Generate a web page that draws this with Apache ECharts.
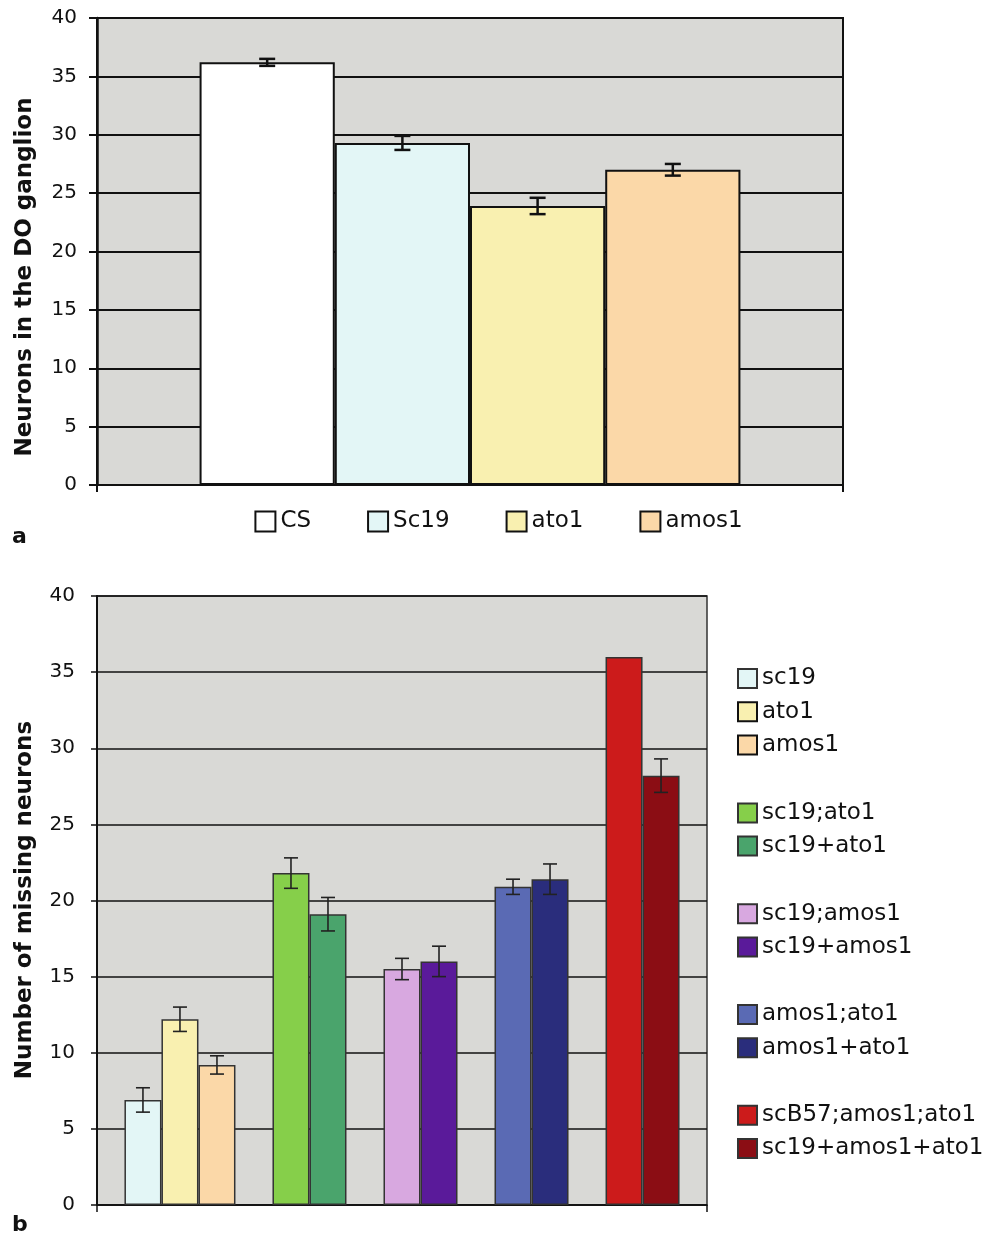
<!DOCTYPE html>
<html>
<head>
<meta charset="utf-8">
<script src="https://cdn.jsdelivr.net/npm/echarts@6/dist/echarts.min.js"></script>
<style>
  html, body { margin: 0; padding: 0; background: #fff; }
  #chart { width: 997px; height: 1234px; }
</style>
</head>
<body>
<div id="chart"></div>
<script>
// panel a
const namesA = ['CS', 'Sc19', 'ato1', 'amos1'];
const valuesA = [36.2, 29.3, 23.9, 27.0];
const errorsA = [0.3, 0.6, 0.7, 0.5];

// panel b
const namesB = ['sc19', 'ato1', 'amos1', 'sc19;ato1', 'sc19+ato1', 'sc19;amos1', 'sc19+amos1',
    'amos1;ato1', 'amos1+ato1', 'scB57;amos1;ato1', 'sc19+amos1+ato1'];
const valuesB = [6.9, 12.2, 9.2, 21.8, 19.1, 15.5, 16.0, 20.9, 21.4, 36.0, 28.2];
const errorsB = [0.8, 0.8, 0.6, 1.0, 1.1, 0.7, 1.0, 0.5, 1.0, null, 1.1];
const groupSizesB = [3, 2, 2, 2, 2];

const yTicks = [0, 5, 10, 15, 20, 25, 30, 35, 40];

const colorsA = ['#ffffff', '#e3f6f6', '#f9f0b0', '#fbd8a8'];
const colorsB = ['#e3f6f6', '#f9f0b0', '#fbd8a8', '#86cf4a', '#4aa46c', '#d8a8e0', '#5a1a9a',
    '#5a6ab4', '#2a2d7c', '#cc1b1b', '#8b0d14'];

const FONT = 'DejaVu Sans';
const GAP_A = 0.275;
const GAP_B = 0.09;

const errorBars = (slots, gap, cap, color, width) => (params, api) => {
    const v = api.value(1);
    const e = api.value(2);
    const k = api.value(3);
    const band = api.size([1, 0])[0];
    const inner = band * (1 - gap);
    const bw = inner / slots;
    const x = api.coord([0, 0])[0] - inner / 2 + (k + 0.5) * bw;
    const top = api.coord([0, v + e])[1];
    const bot = api.coord([0, v - e])[1];
    const style = { stroke: color, lineWidth: width };
    return {
        type: 'group',
        children: [
            { type: 'line', shape: { x1: x, y1: top, x2: x, y2: bot }, style },
            { type: 'line', shape: { x1: x - cap, y1: top, x2: x + cap, y2: top }, style },
            { type: 'line', shape: { x1: x - cap, y1: bot, x2: x + cap, y2: bot }, style }
        ]
    };
};

const yAxis = (gridIndex, lw, tickLen, margin) => ({
    type: 'value',
    gridIndex,
    min: yTicks[0],
    max: yTicks[yTicks.length - 1],
    interval: yTicks[1] - yTicks[0],
    axisLine: { show: true, lineStyle: { color: '#111', width: lw + 0.5 } },
    axisTick: { show: true, length: tickLen, lineStyle: { color: '#111', width: lw } },
    axisLabel: { fontFamily: FONT, fontSize: 20, color: '#111', margin },
    splitLine: { show: true, lineStyle: { color: '#111', width: lw } }
});

const xAxis = (gridIndex, lw) => ({
    type: 'category',
    gridIndex,
    data: [''],
    axisLine: { show: true, lineStyle: { color: '#111', width: lw } },
    axisTick: { show: true, length: 7, lineStyle: { color: '#111', width: lw } },
    axisLabel: { show: false }
});

const yTitle = (text, x, y) => ({
    type: 'text',
    x,
    y,
    rotation: Math.PI / 2,
    style: {
        text,
        font: 'bold 23px "DejaVu Sans"',
        fill: '#111',
        textAlign: 'center',
        textVerticalAlign: 'middle'
    }
});

const series = [];

// panel a bars
namesA.forEach((name, i) => {
    series.push({
        type: 'bar',
        name,
        xAxisIndex: 0,
        yAxisIndex: 0,
        barGap: '0%',
        barCategoryGap: GAP_A * 100 + '%',
        data: [valuesA[i]],
        itemStyle: { color: colorsA[i], borderColor: '#111', borderWidth: 2 }
    });
});
series.push({
    type: 'custom',
    xAxisIndex: 0,
    yAxisIndex: 0,
    z: 5,
    renderItem: errorBars(namesA.length, GAP_A, 8, '#111', 2.5),
    data: valuesA.map((v, i) => [0, v, errorsA[i], i])
});

// panel b bars, one empty slot between groups
const slotsB = [];
const groupsB = [];
let slot = 0;
let idx = 0;
groupSizesB.forEach((size, g) => {
    groupsB.push({ start: idx, size, slot });
    for (let j = 0; j < size; j++) {
        slotsB.push(slot);
        series.push({
            type: 'bar',
            name: namesB[idx],
            xAxisIndex: 1,
            yAxisIndex: 1,
            barGap: '0%',
            barCategoryGap: GAP_B * 100 + '%',
            data: [valuesB[idx]],
            itemStyle: { color: colorsB[idx], borderColor: '#333', borderWidth: 1.5 }
        });
        idx++;
        slot++;
    }
    if (g < groupSizesB.length - 1) {
        series.push({
            type: 'bar',
            name: 'gap' + g,
            xAxisIndex: 1,
            yAxisIndex: 1,
            barGap: '0%',
            barCategoryGap: GAP_B * 100 + '%',
            data: [null]
        });
        slot++;
    }
});
const slotCountB = slot;
series.push({
    type: 'custom',
    xAxisIndex: 1,
    yAxisIndex: 1,
    z: 5,
    renderItem: errorBars(slotCountB, GAP_B, 7, '#222', 1.6),
    data: valuesB.map((v, i) => [0, v, errorsB[i], slotsB[i]]).filter(d => d[2] != null)
});

const legends = [{
    orient: 'horizontal',
    left: 'center',
    top: 510,
    padding: 0,
    itemWidth: 20,
    itemHeight: 20,
    itemGap: 56,
    icon: 'rect',
    textStyle: { fontFamily: FONT, fontSize: 23, color: '#111', lineHeight: 20 },
    data: namesA
}];
groupsB.forEach((grp) => {
    legends.push({
        orient: 'vertical',
        left: 737,
        top: 667 + grp.slot * 33.6,
        padding: 0,
        itemWidth: 19,
        itemHeight: 19,
        itemGap: 10.2,
        icon: 'rect',
        textStyle: { fontFamily: FONT, fontSize: 23, color: '#111', lineHeight: 19 },
        data: namesB.slice(grp.start, grp.start + grp.size)
    });
});

const option = {
    animation: false,
    backgroundColor: '#ffffff',
    textStyle: { fontFamily: FONT },
    grid: [
        {
            left: 97, top: 18, width: 746, height: 467,
            show: true, backgroundColor: '#d9d9d6', borderColor: '#111', borderWidth: 2,
            containLabel: false, outerBoundsMode: 'none'
        },
        {
            left: 97, top: 596, width: 610, height: 609,
            show: true, backgroundColor: '#d9d9d6', borderColor: '#333', borderWidth: 1.5,
            containLabel: false, outerBoundsMode: 'none'
        }
    ],
    xAxis: [xAxis(0, 2), xAxis(1, 1.5)],
    yAxis: [yAxis(0, 2, 8, 20), yAxis(1, 1.5, 6, 22)],
    legend: legends,
    graphic: [
        yTitle('Neurons in the DO ganglion', 25, 277),
        yTitle('Number of missing neurons', 25, 900),
        { type: 'text', left: 12, top: 526, style: { text: 'a', font: 'bold 22px "DejaVu Sans"', fill: '#111' } },
        { type: 'text', left: 12, top: 1214, style: { text: 'b', font: 'bold 22px "DejaVu Sans"', fill: '#111' } }
    ],
    series
};

const chart = echarts.init(document.getElementById('chart'));
chart.setOption(option);
</script>
</body>
</html>
